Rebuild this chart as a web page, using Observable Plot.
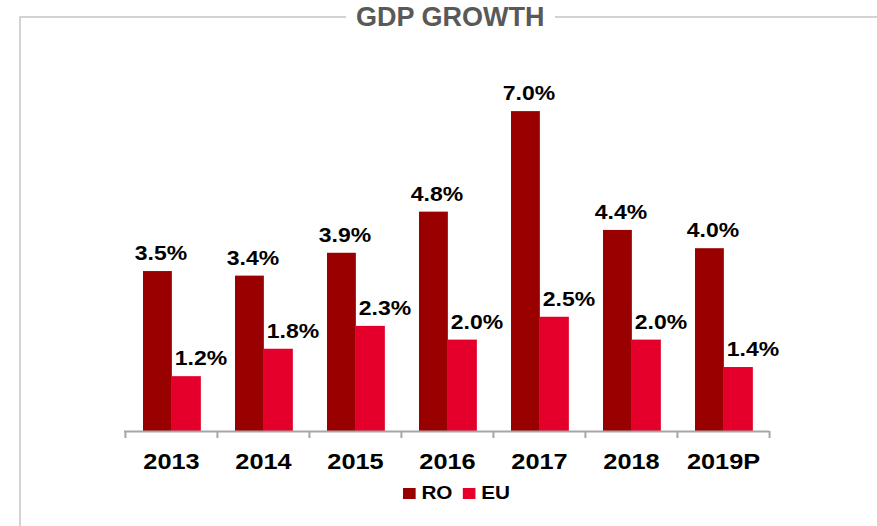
<!DOCTYPE html>
<html><head><meta charset="utf-8">
<script src="https://cdn.jsdelivr.net/npm/d3@7"></script>
<script src="https://cdn.jsdelivr.net/npm/@observablehq/plot@0.6"></script>
<style>
html,body{margin:0;padding:0;background:#fff;}
#wrap{position:relative;width:877px;height:526px;overflow:hidden;font-family:"Liberation Sans",Arial,sans-serif;}
.fl{position:absolute;background:#d6d2d2;}
#title{position:absolute;left:356px;top:4px;font-size:27px;line-height:27px;font-weight:bold;color:#595959;white-space:nowrap;}
#chart{position:absolute;left:0;top:0;}
#legend{position:absolute;left:403px;top:477px;transform:scaleX(1.15);transform-origin:left center;}
.lg-swatch{margin-right:9px !important;}
.lg-swatch > svg{margin-right:5px !important;}
</style></head><body>
<div id="wrap">
 <div class="fl" style="left:19px;top:16px;width:2px;height:510px"></div>
 <div class="fl" style="left:19px;top:16px;width:327px;height:2px"></div>
 <div class="fl" style="left:555px;top:16px;width:322px;height:2px"></div>
 <div id="title">GDP GROWTH</div>
 <div id="chart"></div>
 <div id="legend"></div>
</div>
<script>
const years = ["2013", "2014", "2015", "2016", "2017", "2018", "2019P"];
const roValues = [3.5, 3.4, 3.9, 4.8, 7.0, 4.4, 4.0];
const euValues = [1.2, 1.8, 2.3, 2.0, 2.5, 2.0, 1.4];
const seriesNames = ["RO", "EU"];
const seriesColors = ["#990000", "#E4002B"];

const W = 877, H = 480, mL = 124, mR = 108, mT = 40, mB = 49;
const bw = (W - mL - mR) / years.length;
const ro = years.map((y, i) => ({year: y, series: "RO", value: roValues[i]}));
const eu = years.map((y, i) => ({year: y, series: "EU", value: euValues[i]}));
const fmt = v => v.toFixed(1) + "%";
const font = "'Liberation Sans', Arial, sans-serif";
const axisColor = "#a6a6a6";

const chart = Plot.plot({
  width: W, height: H,
  marginLeft: mL, marginRight: mR, marginTop: mT, marginBottom: mB,
  style: {fontFamily: font, background: "transparent", color: "#000", overflow: "visible"},
  x: {domain: years, padding: 0, label: null},
  y: {domain: [0, 8.556], axis: null},
  color: {domain: seriesNames, range: seriesColors},
  marks: [
    Plot.barY(ro, {x: "year", y: "value", fill: "series", insetLeft: 18, insetRight: bw - 47}),
    Plot.barY(eu, {x: "year", y: "value", fill: "series", insetLeft: 47, insetRight: bw - 76}),
    Plot.ruleY([0], {stroke: axisColor, strokeWidth: 2}),
    Plot.ruleX(years, {x: d => d, y1: 0, y2: 0, dx: -bw / 2, insetBottom: -7, stroke: axisColor, strokeWidth: 2}),
    Plot.ruleX(years.slice(-1), {x: d => d, y1: 0, y2: 0, dx: bw / 2, insetBottom: -7, stroke: axisColor, strokeWidth: 2}),
    Plot.text(ro, {x: "year", y: "value", text: d => fmt(d.value), dx: -bw / 2 + 35.5, dy: -18, lineAnchor: "middle", fontSize: 20, fontWeight: "bold", fill: "#000"}),
    Plot.text(eu, {x: "year", y: "value", text: d => fmt(d.value), dx: -bw / 2 + 75.5, dy: -18, lineAnchor: "middle", fontSize: 20, fontWeight: "bold", fill: "#000"}),
    Plot.axisX({tickSize: 0, tickPadding: 22, fontSize: 22, fontWeight: "bold", fill: "#000", label: null})
  ]
});
document.getElementById("chart").appendChild(chart);

// slightly widen glyphs to match the reference's stretched bold text
chart.querySelectorAll("text").forEach(t => {
  const w = t.getComputedTextLength();
  if (w > 0) {
    t.setAttribute("textLength", (w * 1.15).toFixed(1));
    t.setAttribute("lengthAdjust", "spacingAndGlyphs");
  }
});

const legend = Plot.legend({
  color: {type: "ordinal", domain: seriesNames, range: seriesColors},
  swatchSize: 11,
  className: "lg",
  style: {fontFamily: font, fontSize: "18px", fontWeight: "bold", color: "#000", margin: "0"}
});
document.getElementById("legend").appendChild(legend);
</script>
</body></html>
